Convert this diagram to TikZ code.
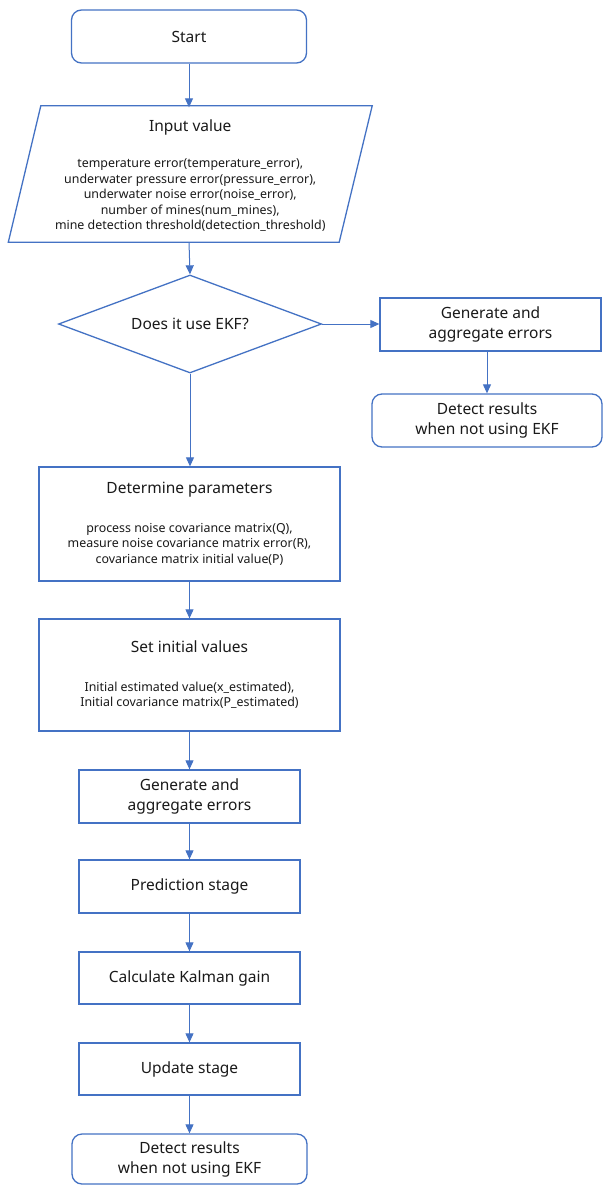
\documentclass[tikz,border=0pt]{standalone}
\usepackage{fontspec}
\setmainfont{Noto Sans}
\usetikzlibrary{shapes.geometric,arrows.meta,calc}
\definecolor{lineblue}{HTML}{4472C4}
\definecolor{txt}{HTML}{1A1A1A}
\newcommand\ttlfont{\fontsize{15.5}{20}\selectfont}
\newcommand\dtlfont{\fontsize{12.4}{15.5}\selectfont}
\begin{document}
\begin{tikzpicture}[x=1pt,y=-1pt,
  box/.style={draw=lineblue, line width=1.3pt, rectangle, minimum width=221pt, minimum height=53pt, inner sep=0pt, align=center, font=\ttlfont, text=txt},
  rbox/.style={box, rounded corners=10pt},
  bigbox/.style={box, minimum width=301pt, font=\dtlfont},
  conn/.style={draw=lineblue, line width=1pt, -{Triangle[length=9pt,width=8pt]}},
]
\useasboundingbox (0,0) rectangle (603,1185);
\fill[white] (0,0) rectangle (603,1185);

% Start
\node[rbox, minimum width=235pt] (start) at (189,36.5) {Start};

% Input parallelogram
\node[inner sep=0pt, minimum width=363.5pt, minimum height=136pt, align=center, font=\dtlfont, text=txt] (input) at (190.25,175.5)
  {{\ttlfont Input value}\\[21pt]
   temperature error(temperature\_error),\\
   underwater pressure error(pressure\_error),\\
   underwater noise error(noise\_error),\\
   number of mines(num\_mines),\\
   mine detection threshold(detection\_threshold)};
\draw[lineblue, line width=1.3pt] ($(input.south west)+(0,-1.5)$) -- ($(input.north west)+(32.5,-1.5)$) -- ($(input.north east)+(0,-1.5)$) -- ($(input.south east)+(-33,-1.5)$) -- cycle;

% Decision
\node[diamond, aspect=2.68, draw=lineblue, line width=1.3pt, minimum width=263pt, minimum height=98pt, inner sep=0pt, font=\ttlfont, text=txt] (dec) at (190,324) {Does it use EKF?};

% Right branch
\node[box] (gen1) at (490.5,324.5) {Generate and\\aggregate errors};
\node[rbox, minimum width=230pt] (det1) at (487,420.5) {Detect results\\when not using EKF};

% Main branch
\node[bigbox, minimum height=114pt] (params) at (189.5,524)
  {{\ttlfont Determine parameters}\\[23pt]
   process noise covariance matrix(Q),\\
   measure noise covariance matrix error(R),\\
   covariance matrix initial value(P)};
\node[bigbox, minimum height=112pt] (init) at (189.5,675)
  {{\ttlfont Set initial values}\\[23pt]
   Initial estimated value(x\_estimated),\\
   Initial covariance matrix(P\_estimated)};
\node[box] (gen2) at (189.5,796.5) {Generate and\\aggregate errors};
\node[box] (pred) at (189.5,886.5) {Prediction stage};
\node[box, minimum height=52pt] (kal) at (189.5,978) {Calculate Kalman gain};
\node[box, minimum height=52pt] (upd) at (189.5,1069) {Update stage};
\node[rbox, minimum width=235pt, minimum height=50pt] (det2) at (189.5,1159) {Detect results\\when not using EKF};

% Connectors
\draw[conn] (start.south) -- (start.south |- input.north);
\draw[conn] ($(input.south -| start.south)+(0,-1.5)$) -- (dec.north);
\draw[conn] (dec.east) -- (gen1.west |- dec.east);
\draw[conn] (gen1.south -| det1.north) -- (det1.north);
\draw[conn] (dec.south) -- (dec.south |- params.north);
\draw[conn] (params.south) -- (init.north);
\draw[conn] (init.south) -- (gen2.north);
\draw[conn] (gen2.south) -- (pred.north);
\draw[conn] (pred.south) -- (kal.north);
\draw[conn] (kal.south) -- (upd.north);
\draw[conn] (upd.south) -- (det2.north);
\end{tikzpicture}
\end{document}
